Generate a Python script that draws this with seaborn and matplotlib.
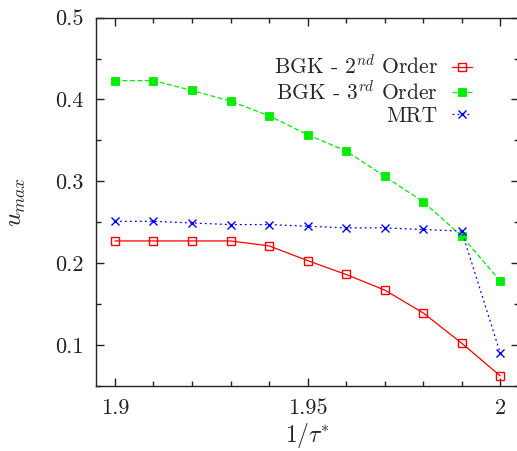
import numpy as np
import pandas as pd
import seaborn as sns
import matplotlib
matplotlib.use('Agg')
import matplotlib.pyplot as plt
from matplotlib.ticker import MultipleLocator, FixedLocator

# ---- data
inv_tau = [1.90, 1.91, 1.92, 1.93, 1.94, 1.95, 1.96, 1.97, 1.98, 1.99, 2.00]
bgk_2nd = [0.227, 0.227, 0.227, 0.227, 0.221, 0.203, 0.186, 0.167, 0.139, 0.102, 0.062]
bgk_3rd = [0.423, 0.423, 0.411, 0.398, 0.380, 0.357, 0.337, 0.306, 0.275, 0.233, 0.178]
mrt     = [0.251, 0.251, 0.249, 0.247, 0.247, 0.245, 0.243, 0.243, 0.241, 0.239, 0.090]
labels  = ['BGK - $2^{nd}$ Order', 'BGK - $3^{rd}$ Order', 'MRT']
xticks  = [1.9, 1.95, 2.0]
xtick_labels = ['1.9', '1.95', '2']
yticks  = [0.1, 0.2, 0.3, 0.4, 0.5]

sns.set_style('ticks')
plt.rcParams['font.family'] = ['serif']
plt.rcParams['font.serif'] = ['cmr10', 'DejaVu Serif']
plt.rcParams['mathtext.fontset'] = 'cm'
plt.rcParams['axes.formatter.use_mathtext'] = True

df = pd.DataFrame({'x': inv_tau * 3,
                   'y': bgk_2nd + bgk_3rd + mrt,
                   'series': [labels[0]] * 11 + [labels[1]] * 11 + [labels[2]] * 11})

fig = plt.figure(figsize=(5.17, 4.51), dpi=100)
ax = fig.add_axes([0.185, 0.1448, 0.8198, 0.816])

styles = {labels[0]: dict(color='#ff0000', marker='s', mfc='none', mec='#ff0000',
                          ls='-', ms=5.5, mew=1.0),
          labels[1]: dict(color='#00ee00', marker='s', mfc='#00ee00', mec='#00ee00',
                          ls=(0, (4, 2)), ms=5.5, mew=0.6),
          labels[2]: dict(color='#0000ff', marker='x', mec='#0000ff',
                          ls=(0, (1.5, 2.5)), ms=5.5, mew=1.0)}

for lab in labels:
  sub = df[df.series == lab]
  sns.lineplot(x=sub.x, y=sub.y, ax=ax, label=lab, lw=0.9, **styles[lab])

ax.set_xlim(1.895, 2.005)
ax.set_ylim(0.05, 0.5)
ax.xaxis.set_major_locator(FixedLocator(xticks))
ax.set_xticklabels(xtick_labels)
ax.xaxis.set_minor_locator(MultipleLocator(0.01))
ax.yaxis.set_major_locator(FixedLocator(yticks))
ax.set_yticklabels([str(v) for v in yticks])
ax.yaxis.set_minor_locator(MultipleLocator(0.05))
ax.tick_params(which='both', direction='in', top=True, right=True, width=1.0, colors='#222222')
ax.tick_params(which='major', length=6, pad=9, labelsize=16)
ax.tick_params(which='minor', length=3.5)
for s in ax.spines.values():
  s.set_linewidth(1.0)
  s.set_color('#222222')

ax.set_xlabel(r'$1/\tau^{*}$', fontsize=17)
ax.set_ylabel(r'$u_{max}$', fontsize=18)
ax.xaxis.set_label_coords(0.5, -0.097)
ax.yaxis.set_label_coords(-0.16, 0.5)

leg = ax.legend(loc='upper right', bbox_to_anchor=(472 / 517, 1 - 55 / 451),
                bbox_transform=fig.transFigure, frameon=False, markerfirst=False,
                handlelength=0.95, handletextpad=0.65, borderpad=0, borderaxespad=0,
                labelspacing=0.1, fontsize=15.5)

#------------------------ save figure
fig.savefig('out.png', dpi=100)
